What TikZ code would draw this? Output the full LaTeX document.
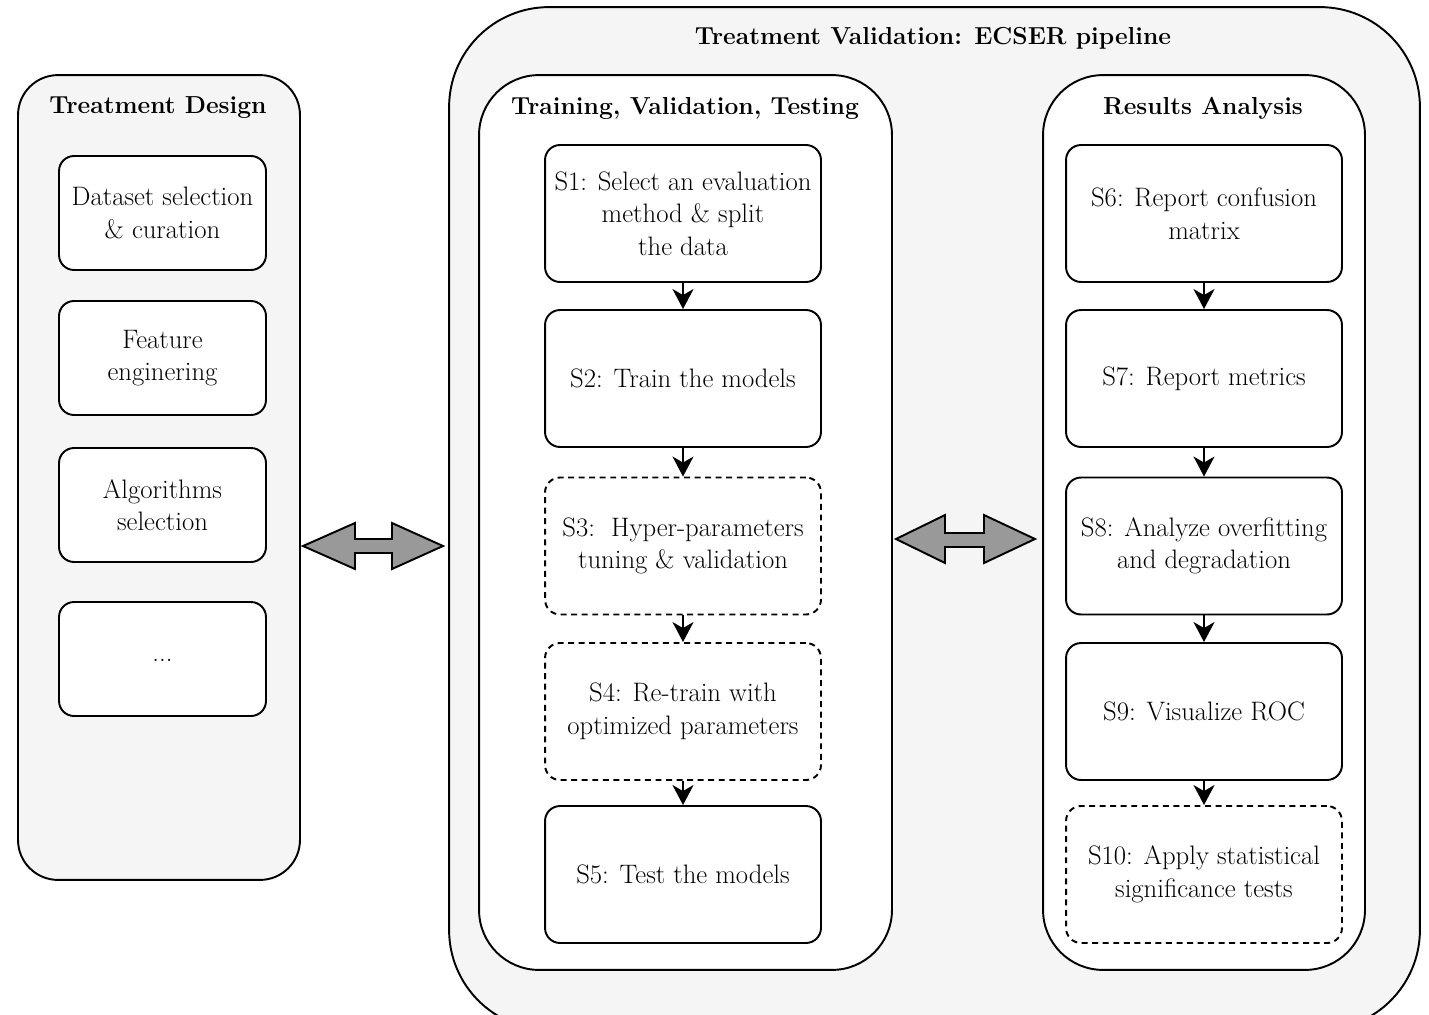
\documentclass[tikz,border=0pt]{standalone}
\usepackage{fontspec}
\usepackage{tikz}
\usetikzlibrary{shapes, arrows.meta, positioning}
\definecolor{panelgray}{HTML}{F5F5F5}
\definecolor{swapgray}{HTML}{999999}

\begin{document}
\begin{tikzpicture}
  [
    x=0.02cm, y=-0.02cm,
    Outer/.style={draw=black, fill=panelgray, line width=1.1pt, rounded corners=2cm, minimum width=19.42cm, minimum height=20.46cm},
    Panel/.style={draw=black, fill=panelgray, line width=1.1pt, rounded corners=0.8cm, minimum width=5.64cm, minimum height=16.1cm},
    Inner/.style={draw=black, fill=white, line width=1.1pt, rounded corners=1.2cm, minimum height=17.9cm},
    Item/.style={draw=black, fill=white, line width=1.1pt, rounded corners=0.3cm, minimum width=4.14cm, minimum height=2.28cm, align=center, inner sep=0pt, font=\fontsize{15.2}{18.5}\selectfont},
    Step/.style={draw=black, fill=white, line width=1.1pt, rounded corners=0.3cm, minimum width=5.52cm, minimum height=2.74cm, align=center, inner sep=0pt, font=\fontsize{15.2}{18.5}\selectfont},
    Opt/.style={Step, dash pattern=on 3.4pt off 2.6pt},
    Title/.style={font=\fontsize{14}{18}\selectfont\bfseries},
    Flow/.style={-{Stealth[length=0.4cm, width=0.42cm, inset=0.12cm]}, line width=1.1pt},
    Swap/.style={draw=black, line width=1.1pt, fill=swapgray, line join=miter}
  ]
  \clip (0, 0) rectangle (1429, 1014);

  % Containers (x, y)
  \node[Outer] (pipeline) at (934.5, 518.5) {};
  \node[Title] (pipetitle) at (933, 38) {Treatment Validation: ECSER pipeline};
  \node[Panel] (design) at (159, 477.5) {};
  \node[Title] (designtitle) at (158, 108) {Treatment Design};
  \node[Inner, minimum width=8.26cm] (train) at (685.5, 522.5) {};
  \node[Title] (traintitle) at (685, 108) {Training, Validation, Testing};
  \node[Inner, minimum width=6.44cm] (results) at (1204, 522.5) {};
  \node[Title] (resultstitle) at (1203, 108) {Results Analysis};

  % Treatment design items
  \node[Item] (d1) at (162.5, 213) {Dataset selection\\ \& curation};
  \node[Item] (d2) at (162.5, 358) {Feature\\ enginering};
  \node[Item] (d3) at (162.5, 505) {Algorithms\\ selection};
  \node[Item] (d4) at (162.5, 659) {\raisebox{-0.5ex}{...}};

  % Training steps
  \node[Step] (s1) at (683, 213.5) {S1: Select an evaluation\\ method \& split\\ the data};
  \node[Step] (s2) at (683, 378.5) {S2: Train the models};
  \node[Opt] (s3) at (683, 546) {S3:\ \ Hyper-parameters\\ tuning \& validation};
  \node[Opt] (s4) at (683, 711.5) {S4: Re-train with\\ optimized parameters};
  \node[Step] (s5) at (683, 874.5) {S5: Test the models};

  % Analysis steps
  \node[Step] (s6) at (1204, 213.5) {S6: Report confusion\\ matrix};
  \node[Step] (s7) at (1204, 378.5) {S7: Report metrics};
  \node[Step] (s8) at (1204, 546) {S8: Analyze overfitting\\ and degradation};
  \node[Step] (s9) at (1204, 711.5) {S9: Visualize ROC};
  \node[Opt] (s10) at (1204, 874.5) {S10: Apply statistical\\ significance tests};

  % Lines
  \draw[Flow] (s1) -- (s2);
  \draw[Flow] (s2) -- (s3);
  \draw[Flow] (s3) -- (s4);
  \draw[Flow] (s4) -- (s5);
  \draw[Flow] (s6) -- (s7);
  \draw[Flow] (s7) -- (s8);
  \draw[Flow] (s8) -- (s9);
  \draw[Flow] (s9) -- (s10);

  % design <-> pipeline
  \draw[Swap] (303, 546) -- (355, 523) -- (355, 539) -- (392, 539) -- (392, 523)
    -- (443, 546) -- (392, 569) -- (392, 553) -- (355, 553) -- (355, 569) -- cycle;
  % training <-> results
  \draw[Swap] (896, 539) -- (945, 515) -- (945, 533) -- (984, 533) -- (984, 515)
    -- (1035, 539) -- (984, 563) -- (984, 547) -- (945, 547) -- (945, 563) -- cycle;

\end{tikzpicture}
\end{document}
